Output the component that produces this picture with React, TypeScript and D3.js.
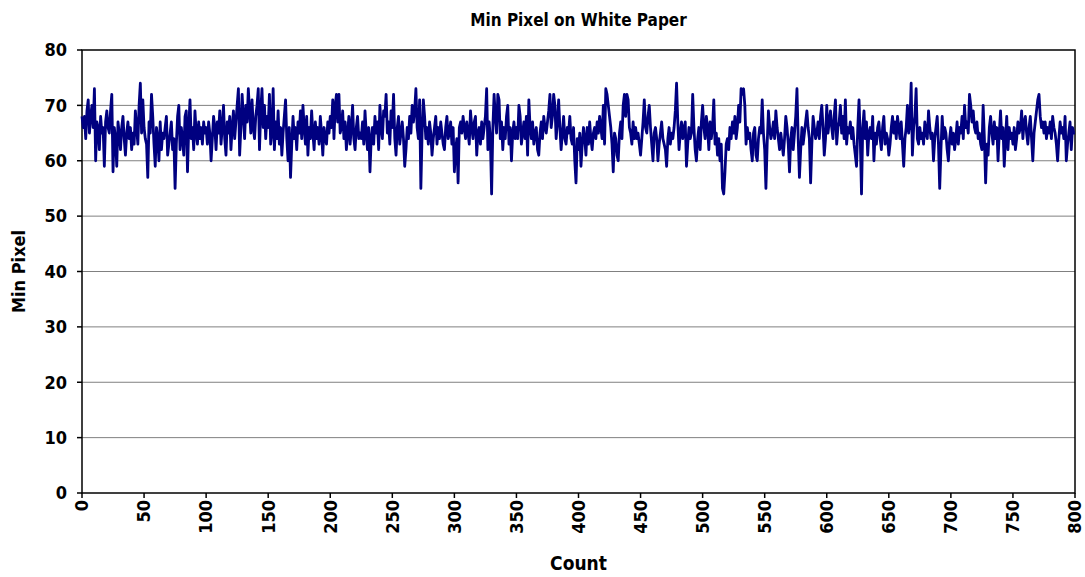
import React from "react";
import * as d3 from "d3";

const title = "Min Pixel on White Paper";
const xTitle = "Count";
const yTitle = "Min Pixel";
const yTicks = [0, 10, 20, 30, 40, 50, 60, 70, 80];
const xTicks = [0, 50, 100, 150, 200, 250, 300, 350, 400, 450, 500, 550, 600, 650, 700, 750, 800];

const minPixel: number[] = [
  68,66,68,64,69,71,65,68,70,66,73,60,67,66,62,68,65,66,59,67,69,66,65,69,72,
  58,66,64,59,67,65,62,66,68,64,61,65,67,64,66,62,65,63,69,66,63,70,74,65,71,
  66,64,63,57,67,65,72,68,63,59,66,64,60,67,62,65,64,66,68,61,63,65,67,62,64,
  55,63,68,70,62,66,64,61,68,69,58,66,71,64,66,62,69,65,63,67,64,66,63,67,65,
  66,63,67,65,60,64,68,66,62,67,65,69,63,66,70,64,61,67,65,68,62,66,69,64,67,
  70,73,61,66,72,68,64,70,67,73,69,65,71,66,64,68,70,73,62,69,73,66,70,64,68,
  66,72,63,65,73,62,67,64,69,63,66,61,65,68,71,64,60,66,57,63,68,64,66,62,67,
  65,69,64,70,66,63,68,61,66,64,69,65,62,67,64,66,63,68,65,61,66,64,63,67,65,
  68,66,71,64,70,72,67,72,65,66,69,64,67,62,65,68,63,66,70,64,62,66,68,64,65,
  64,67,63,69,65,62,66,58,64,66,63,68,65,67,62,70,66,64,69,68,72,65,67,63,69,
  66,72,64,61,66,68,63,65,67,64,59,62,66,64,68,65,70,67,69,73,66,64,71,55,65,
  71,68,64,66,63,67,65,61,64,66,68,63,66,64,67,65,63,62,66,68,64,65,67,63,66,
  58,62,64,56,66,67,65,68,66,64,67,65,63,69,66,64,67,68,61,65,66,63,67,64,66,
  68,73,62,67,64,54,66,72,68,65,72,71,64,67,62,66,64,68,70,63,66,60,65,67,64,
  66,64,70,68,63,65,67,64,68,61,71,66,64,67,63,65,66,62,61,65,67,64,68,66,65,
  67,69,72,66,68,72,70,64,67,71,66,62,65,68,64,63,66,65,68,64,63,66,60,56,64,
  62,65,59,63,66,64,61,66,63,67,64,62,65,66,64,67,65,68,66,64,70,63,73,72,70,
  68,66,63,58,65,64,61,60,65,67,64,70,72,68,72,71,66,65,63,67,64,66,64,65,63,
  61,64,67,71,66,65,68,70,66,63,60,65,66,64,60,63,65,67,64,63,62,59,64,66,63,
  65,64,66,69,74,67,62,65,67,64,66,67,59,63,66,64,65,72,66,62,60,64,66,62,67,
  70,66,64,68,66,62,67,64,66,71,63,65,61,64,60,63,55,54,58,63,64,62,66,64,67,
  65,68,64,66,70,67,73,72,73,70,63,66,64,65,62,60,65,66,61,60,64,66,65,71,65,
  62,55,63,69,66,64,65,67,64,69,66,64,62,65,63,61,64,68,66,63,58,64,66,62,65,
  68,73,64,57,62,66,63,65,67,69,66,64,56,63,68,66,64,65,67,64,68,70,66,61,64,
  70,65,67,69,66,64,68,71,63,66,67,70,65,68,64,71,63,66,65,67,64,66,63,61,59,
  66,71,64,54,66,69,64,67,61,65,66,64,68,60,65,63,66,67,64,62,66,68,63,65,64,
  61,63,66,68,65,67,64,68,66,64,67,63,59,64,66,70,65,67,74,61,66,68,73,64,63,
  66,64,65,63,67,65,64,69,66,64,65,60,64,66,68,63,55,62,68,64,66,65,62,60,64,
  66,63,65,62,64,67,63,66,65,68,64,70,66,67,65,72,70,67,69,66,65,67,64,65,63,
  62,70,64,56,63,61,66,68,65,63,67,64,66,60,65,69,64,66,59,64,68,62,66,64,65,
  63,66,62,64,67,65,66,69,64,67,68,65,63,66,68,64,60,65,67,69,71,72,68,66,67,
  65,67,64,66,65,67,64,68,66,65,63,60,64,67,65,66,64,68,60,63,65,67,62,66,65,65
];

const W = 1085, H = 577;
const L = 82, R = 1075, T = 50, B = 493;
const FONT = "'Liberation Sans Narrow', 'DejaVu Sans Condensed', 'Arial Narrow', sans-serif";

export default function App() {
  const x = d3.scaleLinear().domain([0, 800]).range([L, R]);
  const y = d3.scaleLinear().domain([0, 80]).range([B, T]);
  const line = d3.line<number>().x((_, i) => x(i)).y((d) => y(d));
  const path = line(minPixel) || "";

  return (
    <svg width={W} height={H} style={{ position: "absolute", left: 0, top: 0, background: "#fff" }}
      fontFamily={FONT} fontWeight="bold">
      <rect x={0} y={0} width={W} height={H} fill="#fff" />
      {yTicks.filter((t) => t > 0 && t < 80).map((t) => (
        <line key={"g" + t} x1={L} x2={R} y1={y(t)} y2={y(t)} stroke="#808080" strokeWidth={1} />
      ))}
      <rect x={L} y={T} width={R - L} height={B - T} fill="none" stroke="#000" strokeWidth={1.5} />
      {yTicks.map((t) => (
        <g key={"y" + t}>
          <line x1={L - 5} x2={L} y1={y(t)} y2={y(t)} stroke="#000" strokeWidth={1.5} />
          <text x={L - 15} y={y(t)} dy="0.35em" textAnchor="end" fontSize={18}>{t}</text>
        </g>
      ))}
      {xTicks.map((t) => (
        <g key={"x" + t}>
          <line x1={x(t)} x2={x(t)} y1={B} y2={B + 5} stroke="#000" strokeWidth={1.5} />
          <text transform={`translate(${x(t)},${B + 7}) rotate(-90)`} dy="0.35em" textAnchor="end" fontSize={18}>{t}</text>
        </g>
      ))}
      <path d={path} fill="none" stroke="#000080" strokeWidth={2.8} strokeLinejoin="round" />
      <text x={(L + R) / 2} y={26} textAnchor="middle" fontSize={17}>{title}</text>
      <text x={(L + R) / 2} y={570} textAnchor="middle" fontSize={19}>{xTitle}</text>
      <text transform={`translate(25,${(T + B) / 2}) rotate(-90)`} textAnchor="middle" fontSize={18}>{yTitle}</text>
    </svg>
  );
}
